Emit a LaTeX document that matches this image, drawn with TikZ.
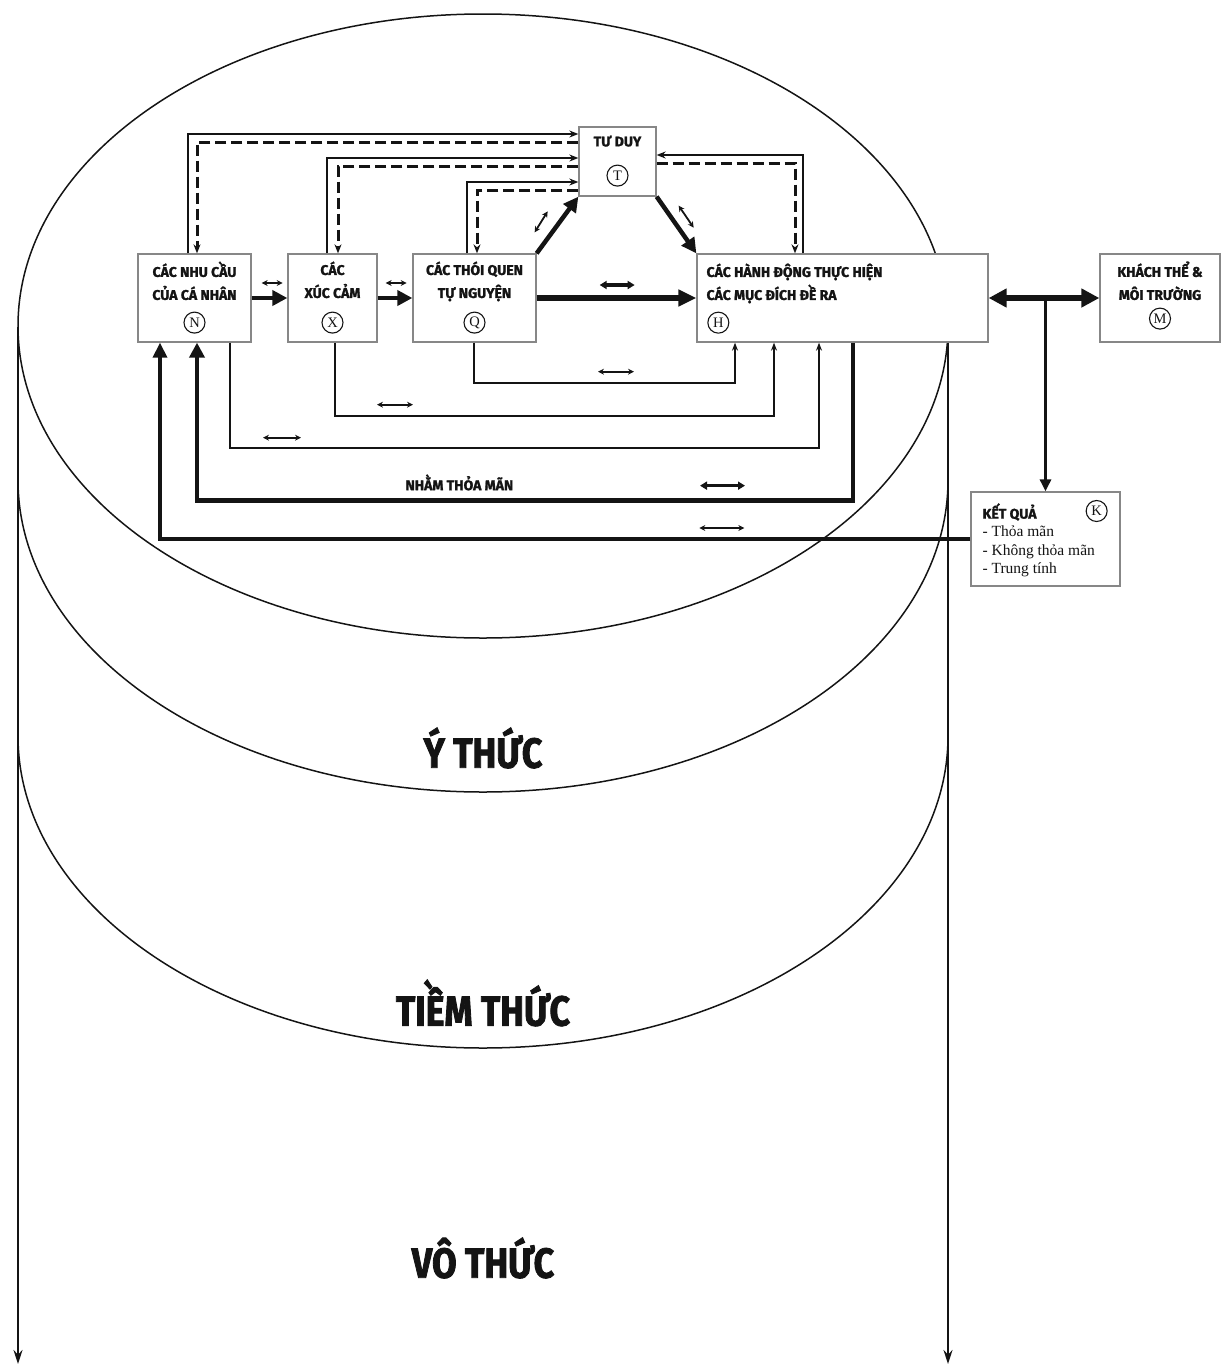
\documentclass[tikz,border=0pt]{standalone}
\usepackage{fontspec}
\setmainfont{Liberation Serif}
\newfontfamily\labfont{Fira Sans}[BoldFeatures={FakeBold=1.5}]
\newfontfamily\layerfont{Fira Sans}[FakeStretch=0.85, BoldFeatures={FakeBold=2}]
\usetikzlibrary{arrows.meta, positioning, calc}
\definecolor{boxgray}{RGB}{135,135,135}
\definecolor{ink}{RGB}{20,20,20}

\begin{document}
\begin{tikzpicture}[x=1pt, y=-1pt, ink,
        box/.style={draw=boxgray, line width=1.3pt, fill=white, minimum height=88pt, inner sep=0pt},
        boxtext/.style={font=\labfont\bfseries\fontsize{14}{23}\selectfont, align=center, inner sep=0pt},
        letter/.style={circle, draw=ink, line width=1.1pt, minimum size=21pt, inner sep=0pt, font=\fontsize{14.5}{14.5}\selectfont},
        layer/.style={font=\layerfont\bfseries\fontsize{42}{42}\selectfont},
        rim/.style={line width=1.5pt},
        side/.style={line width=1.8pt, -{Stealth[length=14pt, width=9pt]}},
        lnk/.style={line width=1.8pt, -{Stealth[length=8pt, width=6pt]}},
        toplnk/.style={line width=2.6pt, -{Stealth[length=9pt, width=7pt]}},
        dlnk/.style={line width=3pt, dash pattern=on 11pt off 5pt, -{Stealth[length=9pt, width=7pt]}},
        thk/.style={line width=4.5pt, -{Triangle[length=15pt, width=15pt]}},
        heavy/.style={line width=5.5pt, -{Triangle[length=18pt, width=16pt]}},
        duo/.style={line width=1.8pt, {Stealth[length=6pt, width=6pt]}-{Stealth[length=6pt, width=6pt]}},
        duothk/.style={line width=3.2pt, {Triangle[length=7pt, width=8pt]}-{Triangle[length=7pt, width=8pt]}}
      ]
        \useasboundingbox (0,0) rectangle (1221,1366);

        % cylinder of the three levels
        \draw[rim] (483,326) ellipse [x radius=465, y radius=312];
        \draw[rim] (18,480) arc[start angle=180, end angle=0, x radius=465, y radius=312];
        \draw[rim] (18,736) arc[start angle=180, end angle=0, x radius=465, y radius=312];
        \node[layer] (lvl1) at (483,748) {Ý THỨC};
        \node[layer] (lvl2) at (483,1003) {TIỀM THỨC};
        \node[layer] (lvl3) at (483,1258) {VÔ THỨC};

        % boxes
        \node[box, minimum width=113pt] (N) at (194.5,298) {};
        \node[boxtext, below=8pt of N.north] {CÁC NHU CẦU\\CỦA CÁ NHÂN};
        \node[letter, above=9pt of N.south] (Nk) {N};

        \node[box, minimum width=89pt] (X) at (332.5,298) {};
        \node[boxtext, below=8pt of X.north] {CÁC\\XÚC CẢM};
        \node[letter, above=9pt of X.south] (Xk) {X};

        \node[box, minimum width=123pt] (Q) at (474.5,298) {};
        \node[boxtext, below=8pt of Q.north] {CÁC THÓI QUEN\\TỰ NGUYỆN};
        \node[letter, above=9pt of Q.south] (Qk) {Q};

        \node[box, minimum width=77pt, minimum height=69pt] (T) at (617.5,161.5) {};
        \node[boxtext, below=9pt of T.north] {TƯ DUY};
        \node[letter, above=10pt of T.south] (Tk) {T};

        \node[box, minimum width=291pt] (H) at (842.5,298) {};
        \node[boxtext, align=left, anchor=north west] at ([shift={(10,10)}]H.north west) {CÁC HÀNH ĐỘNG THỰC HIỆN\\CÁC MỤC ĐÍCH ĐỀ RA};
        \node[letter] (Hk) at ([shift={(22,-20)}]H.south west) {H};

        \node[box, minimum width=120pt] (M) at (1160,298) {};
        \node[boxtext, below=8pt of M.north] {KHÁCH THỂ \&\\MÔI TRƯỜNG};
        \node[letter, above=13pt of M.south] (Mk) {M};

        \node[box, minimum width=149pt, minimum height=94pt] (K) at (1045.5,539) {};
        \node[boxtext, anchor=west] at ([shift={(12,-27)}]K.west) {KẾT QUẢ};
        \node[letter] (Kk) at ([shift={(-24,-28)}]K.east) {K};
        \node[anchor=north west, inner sep=0pt, align=left, font=\fontsize{15.5}{18.5}\selectfont]
          at ([shift={(12,-13)}]K.west) {- Thỏa mãn\\- Không thỏa mãn\\- Trung tính};

        % main chain
        \draw[thk] (N) -- (X);
        \draw[thk] (X) -- (Q);
        \draw[heavy] (Q) -- (H);
        \draw[thk] (Q.north east) -- (T.south west);
        \draw[thk] (T.south east) -- (H.north west);
        \draw[line width=6pt, {Triangle[length=18pt, width=18pt]}-{Triangle[length=18pt, width=18pt]}] (H) -- (M);
        \draw[line width=3pt, -{Triangle[length=12pt, width=11pt]}] (K.north |- H.east) -- (K.north);

        % loops through thinking
        \draw[toplnk] (N.north -| 188,0) |- (T.west |- 0,134);
        \draw[dlnk] (T.west |- 0,142) -| (N.north -| 197,0);
        \draw[toplnk] (X.north -| 327,0) |- (T.west |- 0,158);
        \draw[dlnk] (T.west |- 0,166) -| (X.north -| 338,0);
        \draw[toplnk] (Q.north -| 467,0) |- (T.west |- 0,182);
        \draw[dlnk] (T.west |- 0,190) -| (Q.north -| 477,0);
        \draw[toplnk] (H.north -| 803,0) |- (T.east |- 0,155);
        \draw[dlnk] (T.east |- 0,163) -| (H.north -| 795,0);

        % loops below
        \draw[lnk] (Q.south -| 474,0) -- ++(0,40) -| (H.south -| 735,0);
        \draw[lnk] (X.south -| 335,0) -- ++(0,73) -| (H.south -| 774,0);
        \draw[lnk] (N.south -| 230,0) -- ++(0,105) -| (H.south -| 819,0);
        \draw[thk] (H.south -| 853,0) -- ++(0,158) -| node[pos=0.3, above=8pt, boxtext] {NHẰM THỎA MÃN} (N.south -| 197,0);
        \draw[line width=3.5pt, -{Triangle[length=15pt, width=14pt]}] (K.west) -| (N.south -| 160,0);

        % small double marks
        \draw[duo] ([shift={(10,-15)}]N.east) -- ([shift={(31,-15)}]N.east);
        \draw[duo] ([shift={(8,-15)}]X.east) -- ([shift={(29,-15)}]X.east);
        \draw[duothk] ([shift={(63,-13)}]Q.east) -- ([shift={(98,-13)}]Q.east);
        \draw[duo] ([shift={(-2,-21)}]Q.north east) -- ([shift={(11,-42)}]Q.north east);
        \draw[duo] ([shift={(22,9)}]T.south east) -- ([shift={(37,31)}]T.south east);
        \draw[duo] ([shift={(123.5,29)}]Q.south) -- ([shift={(159.5,29)}]Q.south);
        \draw[duo] ([shift={(44.5,62)}]X.south) -- ([shift={(80.5,62)}]X.south);
        \draw[duo] ([shift={(68.5,95)}]N.south) -- ([shift={(106.5,95)}]N.south);
        \draw[duothk] ([shift={(-142.5,143)}]H.south) -- ([shift={(-97.5,143)}]H.south);
        \draw[duo] ([shift={(-271,-11)}]K.west) -- ([shift={(-226,-11)}]K.west);

        % sides of the cylinder
        \draw[side] (18,327) -- (18,1364);
        \draw[side] (H.south -| 948,0) -- (948,1364);
      \end{tikzpicture}
\end{document}
